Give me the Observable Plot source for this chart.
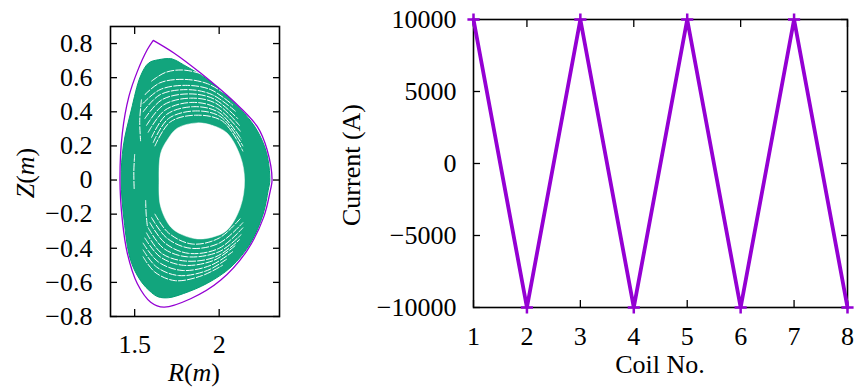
<!DOCTYPE html>
<html><head><meta charset="utf-8">
<script src="https://cdn.jsdelivr.net/npm/d3@7"></script>
<script src="https://cdn.jsdelivr.net/npm/@observablehq/plot@0.6"></script>
<style>
body{margin:0;background:#fff;}
#wrap{position:relative;width:854px;height:391px;overflow:hidden;}
#left{position:absolute;left:0;top:0;}
#right{position:absolute;left:290px;top:0;}
</style></head><body><div id="wrap"><div id="left"></div><div id="right"></div></div>
<script>
// ---------- Left panel data (R, Z in m) ----------
const boundaryR = [1.610,1.732,1.890,2.087,2.225,2.284,2.313,2.303,2.264,2.166,2.008,1.831,1.673,1.595,1.516,1.457,1.427,1.413,1.427,1.466,1.516,1.575,1.610];
const boundaryZ = [0.819,0.745,0.627,0.460,0.314,0.176,0.000,-0.060,-0.216,-0.412,-0.588,-0.696,-0.745,-0.716,-0.608,-0.431,-0.235,0.000,0.275,0.490,0.637,0.765,0.819];

const outerR = [1.640,1.720,1.790,1.930,2.050,2.150,2.225,2.280,2.300,2.290,2.260,2.185,2.070,1.930,1.790,1.700,1.640,1.600,1.535,1.476,1.437,1.420,1.433,1.480,1.535,1.583];
const outerZ = [0.705,0.710,0.675,0.590,0.490,0.390,0.290,0.160,0.000,-0.060,-0.200,-0.370,-0.510,-0.605,-0.665,-0.690,-0.685,-0.660,-0.590,-0.470,-0.235,0.000,0.200,0.410,0.610,0.686];

const holeR = [1.870,1.960,2.047,2.126,2.150,2.126,2.047,1.960,1.870,1.780,1.713,1.654,1.644,1.654,1.693,1.752];
const holeZ = [0.335,0.320,0.275,0.137,0.000,-0.157,-0.294,-0.335,-0.345,-0.320,-0.275,-0.157,0.000,0.157,0.235,0.304];

// white gaps between the island chains: [R, Z] per arc
const upperGaps = [
  [[1.60,0.58],[1.68,0.63],[1.78,0.645],[1.90,0.62],[2.00,0.565]],
  [[1.56,0.50],[1.65,0.57],[1.79,0.59],[1.93,0.565],[2.06,0.49]],
  [[1.55,0.45],[1.65,0.53],[1.80,0.555],[1.95,0.53],[2.08,0.44]],
  [[1.55,0.40],[1.65,0.50],[1.81,0.53],[1.96,0.50],[2.10,0.40]],
  [[1.56,0.36],[1.66,0.47],[1.82,0.505],[1.97,0.475],[2.11,0.36]],
  [[1.57,0.32],[1.67,0.44],[1.83,0.48],[1.98,0.45],[2.12,0.32]],
  [[1.58,0.28],[1.68,0.41],[1.84,0.455],[1.99,0.42],[2.13,0.28]],
  [[1.60,0.25],[1.69,0.385],[1.85,0.43],[2.00,0.395],[2.13,0.24]],
  [[1.61,0.22],[1.70,0.36],[1.86,0.405],[2.01,0.37],[2.14,0.20]],
  [[1.62,0.20],[1.71,0.34],[1.86,0.38],[2.02,0.345],[2.14,0.17]]
];
const lowerGaps = [
  [[1.62,-0.20],[1.70,-0.31],[1.84,-0.375],[2.00,-0.34],[2.13,-0.22]],
  [[1.60,-0.22],[1.69,-0.34],[1.83,-0.40],[2.00,-0.37],[2.14,-0.25]],
  [[1.59,-0.25],[1.68,-0.37],[1.82,-0.43],[2.00,-0.40],[2.14,-0.28]],
  [[1.58,-0.28],[1.67,-0.40],[1.81,-0.45],[2.00,-0.42],[2.13,-0.32]],
  [[1.57,-0.31],[1.66,-0.43],[1.80,-0.475],[1.98,-0.45],[2.12,-0.35]],
  [[1.56,-0.34],[1.65,-0.45],[1.79,-0.50],[1.97,-0.47],[2.10,-0.38]],
  [[1.55,-0.37],[1.64,-0.48],[1.78,-0.53],[1.95,-0.50],[2.08,-0.42]],
  [[1.55,-0.41],[1.63,-0.51],[1.76,-0.56],[1.93,-0.53],[2.05,-0.46]],
  [[1.55,-0.45],[1.62,-0.54],[1.74,-0.59],[1.90,-0.56],[2.02,-0.50]]
];
const sideGaps = [
  [[1.540,0.47],[1.530,0.35],[1.535,0.23]],
  [[1.565,-0.12],[1.568,-0.20],[1.575,-0.27]],
  [[1.500,0.15],[1.495,0.05],[1.497,-0.05]]
];
const leftXTicks = [1.5, 2];
const leftYTicks = [-0.8,-0.6,-0.4,-0.2,0,0.2,0.4,0.6,0.8];

// ---------- Right panel data ----------
const coilNo = [1,2,3,4,5,6,7,8];
const current = [10000,-10000,10000,-10000,10000,-10000,10000,-10000];
const rightXTicks = [1,2,3,4,5,6,7,8];
const rightYTicks = [-10000,-5000,0,5000,10000];

const PURPLE = "#9400D3", GREEN = "#009E73";
const FONT = "'Liberation Serif', 'DejaVu Serif', serif";

const boundary = boundaryR.map((r,i)=>({R:r, Z:boundaryZ[i]}));
const outer = outerR.map((r,i)=>({R:r, Z:outerZ[i]}));
const hole = holeR.map((r,i)=>({R:r, Z:holeZ[i]}));
const gaps = [];
[...upperGaps, ...lowerGaps, ...sideGaps].forEach((arc,k)=>arc.forEach(([r,z])=>gaps.push({R:r, Z:z, arc:k})));

const fmtL = d => d === 0 ? "0" : (Number.isInteger(d) ? String(d) : d3.format(".1f")(d)).replace("-", "\u2212");
const fmtR = d => d3.format("d")(d);

const left = Plot.plot({
  width: 290, height: 391,
  marginLeft: 110, marginRight: 11, marginTop: 26, marginBottom: 75,
  style: {fontFamily: FONT, fontSize: "26px", background: "white", color: "black"},
  x: {domain: [1.357, 2.357]},
  y: {domain: [-0.8, 0.9]},
  marks: [
    Plot.line(outer, {x:"R", y:"Z", curve:"catmull-rom-closed", fill:GREEN, fillOpacity:0.93, stroke:GREEN, strokeWidth:1}),
    Plot.line(gaps, {x:"R", y:"Z", z:"arc", curve:"catmull-rom", stroke:"white", strokeWidth:1.0, strokeDasharray:"7,2"}),
    Plot.line(hole, {x:"R", y:"Z", curve:"catmull-rom-closed", fill:"white", stroke:"white", strokeWidth:0.5}),
    Plot.line(boundary, {x:"R", y:"Z", curve:"catmull-rom", stroke:PURPLE, strokeWidth:1.3}),
    Plot.axisX({anchor:"bottom", ticks:leftXTicks, tickSize:-7, tickFormat:()=>"", label:null, strokeWidth:1.3}),
    Plot.axisX({anchor:"top", ticks:leftXTicks, tickSize:-7, tickFormat:()=>"", label:null, strokeWidth:1.3}),
    Plot.axisY({anchor:"left", ticks:leftYTicks, tickSize:-7, tickFormat:()=>"", label:null, strokeWidth:1.3}),
    Plot.axisY({anchor:"right", ticks:leftYTicks, tickSize:-7, tickFormat:()=>"", label:null, strokeWidth:1.3}),
    Plot.axisX({anchor:"bottom", ticks:leftXTicks, tickSize:0, tickPadding:18, tickFormat:fmtL, label:null}),
    Plot.axisY({anchor:"left", ticks:leftYTicks, tickSize:0, tickPadding:18, tickFormat:fmtL, label:null}),
    Plot.frame({stroke:"black", strokeWidth:1.6})
  ]
});
document.getElementById("left").appendChild(left);

const rdata = coilNo.map((c,i)=>({coil:c, current:current[i]}));
const right = Plot.plot({
  width: 564, height: 391,
  marginLeft: 183, marginRight: 7, marginTop: 19, marginBottom: 84,
  style: {fontFamily: FONT, fontSize: "26px", background: "white", color: "black"},
  x: {domain: [1, 8]},
  y: {domain: [-10000, 10000]},
  marks: [
    Plot.axisX({anchor:"bottom", ticks:rightXTicks, tickSize:-7, tickFormat:()=>"", label:null, strokeWidth:1.3}),
    Plot.axisX({anchor:"top", ticks:rightXTicks, tickSize:-7, tickFormat:()=>"", label:null, strokeWidth:1.3}),
    Plot.axisY({anchor:"left", ticks:rightYTicks, tickSize:-7, tickFormat:()=>"", label:null, strokeWidth:1.3}),
    Plot.axisY({anchor:"right", ticks:rightYTicks, tickSize:-7, tickFormat:()=>"", label:null, strokeWidth:1.3}),
    Plot.axisX({anchor:"bottom", ticks:rightXTicks, tickSize:0, tickPadding:19, tickFormat:fmtR, label:null}),
    Plot.axisY({anchor:"left", ticks:rightYTicks, tickSize:0, tickPadding:17, tickFormat:fmtR, label:null}),
    Plot.frame({stroke:"black", strokeWidth:1.6}),
    Plot.line(rdata, {x:"coil", y:"current", stroke:PURPLE, strokeWidth:3.8, strokeLinejoin:"miter"}),
    Plot.dot(rdata, {x:"coil", y:"current", symbol:"plus", r:4, stroke:PURPLE, strokeWidth:2.5})
  ]
});
document.getElementById("right").appendChild(right);

// axis titles (LaTeX-style math italics)
function mathLabel(svg, parts, x, y, rotate) {
  const t = d3.select(svg).append("text")
    .attr("font-family", FONT).attr("font-size", 26).attr("fill", "black")
    .attr("text-anchor", "middle")
    .attr("transform", `translate(${x},${y})` + (rotate ? " rotate(-90)" : ""));
  parts.forEach(([s, it]) => t.append("tspan").attr("font-style", it ? "italic" : "normal").text(s));
}
mathLabel(left, [["R",1],["(",0],["m",1],[")",0]], 194, 381, false);
mathLabel(left, [["Z",1],["(",0],["m",1],[")",0]], 34, 173, true);
mathLabel(right, [["Coil No.",0]], 660 - 290, 373, false);
mathLabel(right, [["Current (A)",0]], 360 - 290, 165, true);
</script></body></html>
